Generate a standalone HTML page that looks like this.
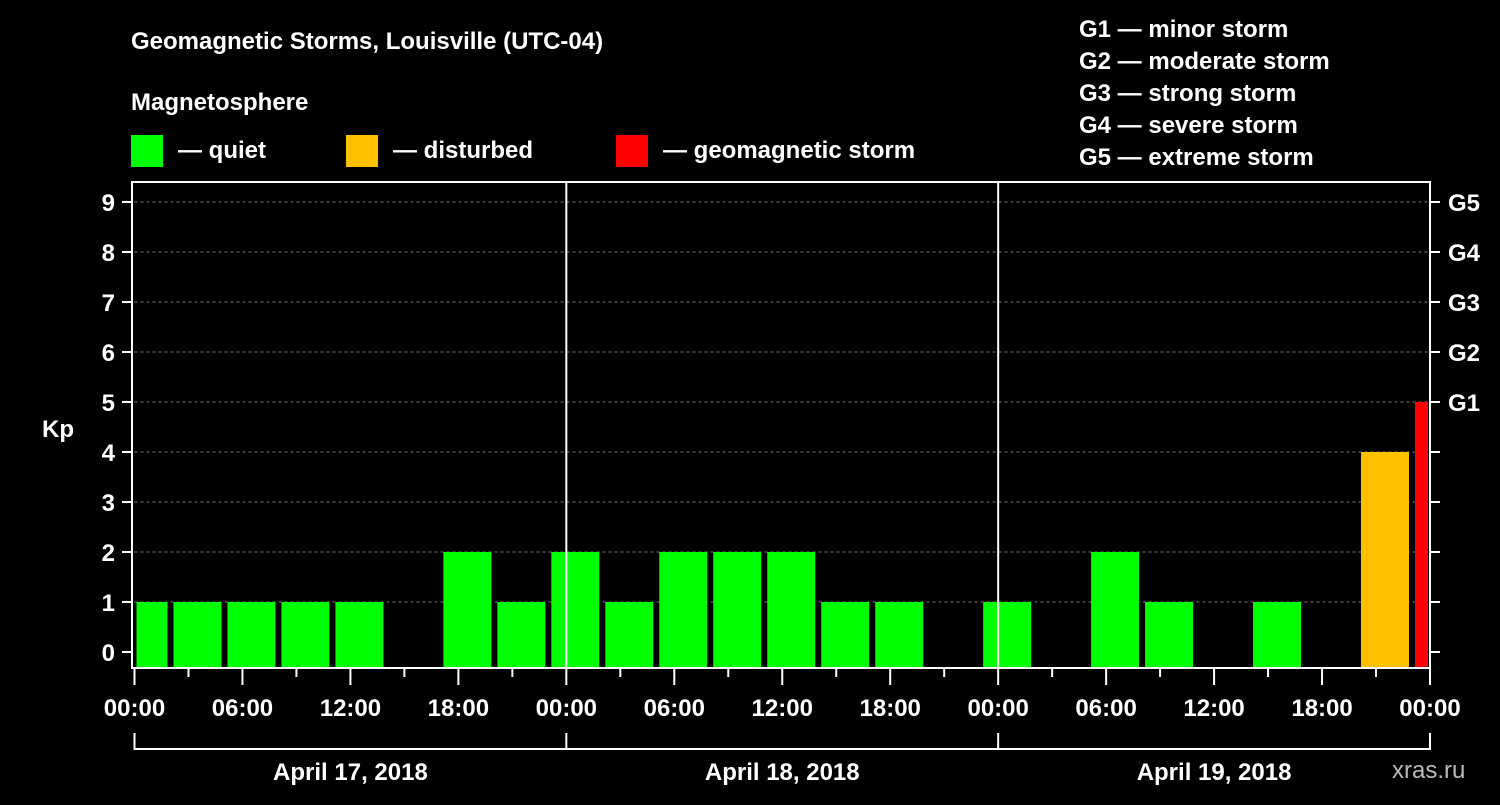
<!DOCTYPE html>
<html><head><meta charset="utf-8"><style>
body{margin:0;background:#000;width:1500px;height:800px;overflow:hidden}
svg text{font-family:"Liberation Sans",Arial,sans-serif;font-weight:bold;fill:#fff}
</style></head><body>
<svg id="c" width="1500" height="800">
<text x="131" y="49" font-size="24">Geomagnetic Storms, Louisville (UTC-04)</text>
<text x="131" y="110" font-size="24">Magnetosphere</text>
<rect x="131" y="135" width="32" height="32" fill="#00ff00"/>
<text x="178" y="158" font-size="24">— quiet</text>
<rect x="346" y="135" width="32" height="32" fill="#ffc000"/>
<text x="393" y="158" font-size="24">— disturbed</text>
<rect x="616" y="135" width="32" height="32" fill="#ff0000"/>
<text x="663" y="158" font-size="24">— geomagnetic storm</text>
<g font-size="24">
<text x="1079" y="37">G1 — minor storm</text>
<text x="1079" y="69">G2 — moderate storm</text>
<text x="1079" y="101">G3 — strong storm</text>
<text x="1079" y="133">G4 — severe storm</text>
<text x="1079" y="165">G5 — extreme storm</text>
</g>
<text x="42" y="437" font-size="24">Kp</text>
<text x="1392" y="778" font-size="24" fill="#aaa" style="fill:#bbb;font-weight:normal">xras.ru</text>
<g id="grid"></g><g id="bars"></g><g id="axes"></g>
</svg>
<script>
const kpValues=[1,1,1,1,1,0,2,1,2,1,2,2,2,1,1,0,1,0,2,1,0,1,0,4,5];
const yTicks=[0,1,2,3,4,5,6,7,8,9];
const gLabels=["G1","G2","G3","G4","G5"];
const hourLabels=["00:00","06:00","12:00","18:00","00:00","06:00","12:00","18:00","00:00","06:00","12:00","18:00","00:00"];
const dateLabels=["April 17, 2018","April 18, 2018","April 19, 2018"];
const NS="http://www.w3.org/2000/svg";
const X0=134.5,X1=1430,TOP=182,BOT=668,Y0=652,PPU=50;
const xH=h=>X0+h*(X1-X0)/72;
const yK=k=>Y0-k*PPU;
function mk(t,a,p){const e=document.createElementNS(NS,t);for(const k in a)e.setAttribute(k,a[k]);(p||document.getElementById('axes')).appendChild(e);return e;}
const grid=document.getElementById('grid'),bars=document.getElementById('bars');
yTicks.forEach(k=>{if(k>0){const l=mk('line',{x1:X0,x2:X1,y1:yK(k),y2:yK(k),stroke:'#777','stroke-dasharray':'3,3'},grid);

}
const t=mk('text',{x:115,y:yK(k)+9,'font-size':24,'text-anchor':'end'});t.textContent=k;


mk('line',{x1:122,x2:132,y1:yK(k),y2:yK(k),stroke:'#fff','stroke-width':2});
mk('line',{x1:X1,x2:X1+10,y1:yK(k),y2:yK(k),stroke:'#fff','stroke-width':2});});
gLabels.forEach((g,i)=>{const t=mk('text',{x:1448,y:yK(5+i)+9,'font-size':24});t.textContent=g;

});
kpValues.forEach((v,i)=>{if(v<=0)return;const c=xH(i*3+0.5);let l=c-24,r=c+24;l=Math.max(l,X0+2);r=Math.min(r,X1-2);
const col=v>=5?'#ff0000':v>=4?'#ffc000':'#00ff00';
const b=mk('rect',{x:l,y:yK(v),width:r-l,height:BOT-1-yK(v),fill:col},bars);

});
[1,2].forEach(d=>mk('line',{x1:xH(d*24),x2:xH(d*24),y1:TOP,y2:BOT,stroke:'#fff','stroke-width':2}));
mk('rect',{x:132,y:TOP,width:X1-132,height:BOT-TOP,fill:'none',stroke:'#fff','stroke-width':2});
for(let h=0;h<=72;h+=3){const maj=h%6==0;mk('line',{x1:xH(h),x2:xH(h),y1:BOT,y2:BOT+(maj?17:9),stroke:'#fff','stroke-width':2});}
hourLabels.forEach((s,i)=>{const t=mk('text',{x:xH(i*6),y:716,'font-size':24,'text-anchor':'middle'});t.textContent=s;

});
mk('line',{x1:X0,x2:X1,y1:749,y2:749,stroke:'#fff','stroke-width':2});
for(let d=0;d<=3;d++)mk('line',{x1:xH(d*24),x2:xH(d*24),y1:733,y2:750,stroke:'#fff','stroke-width':2});
dateLabels.forEach((s,i)=>{const t=mk('text',{x:xH(i*24+12),y:780,'font-size':24,'text-anchor':'middle'});t.textContent=s;

});
</script>
</body></html>
